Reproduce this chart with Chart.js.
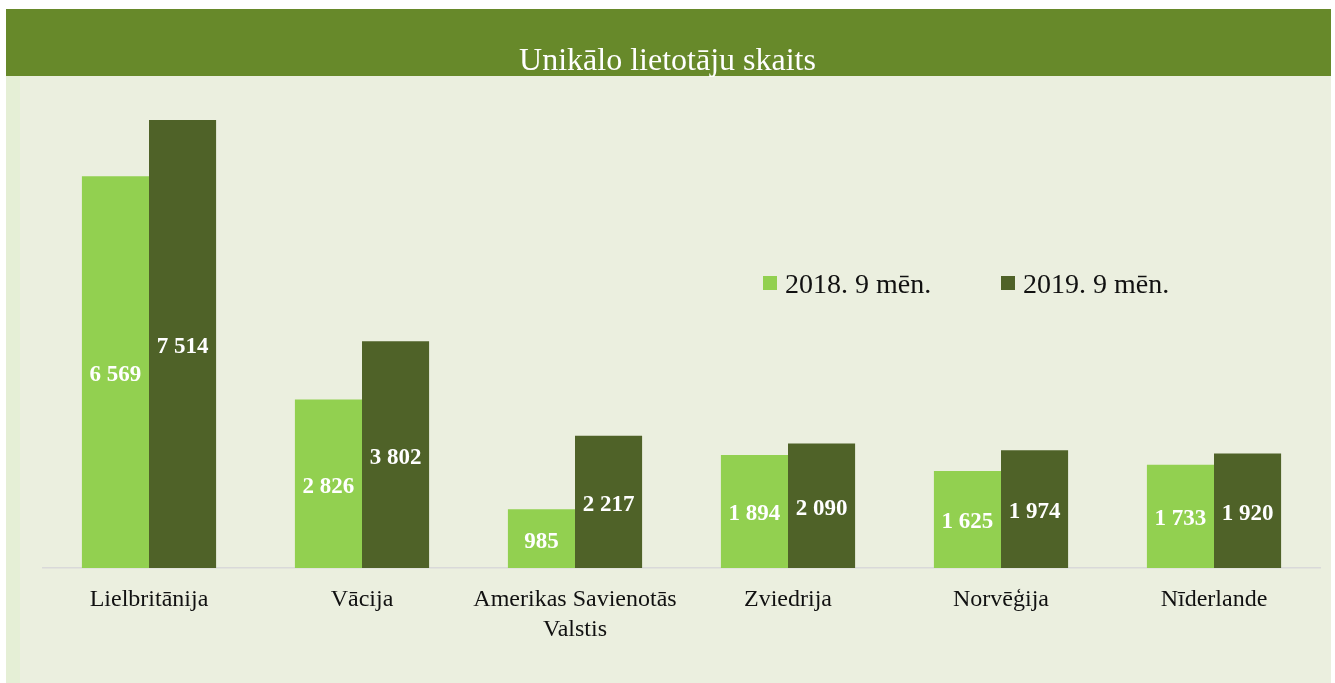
<!DOCTYPE html>
<html>
<head>
<meta charset="utf-8">
<script src="https://cdn.jsdelivr.net/npm/chart.js@4.4.0/dist/chart.umd.min.js"></script>
<style>
  body { margin: 0; background: #fff; }
  #wrap { position: absolute; left: 6px; top: 9px; width: 1325px; height: 674px; }
</style>
</head>
<body>
<div id="wrap"><canvas id="chart" width="1325" height="674"></canvas></div>
<script>
const titleText = 'Unikālo lietotāju skaits';
const categories = ['Lielbritānija', 'Vācija', ['Amerikas Savienotās', 'Valstis'], 'Zviedrija', 'Norvēģija', 'Nīderlande'];
const seriesNames = ['2018. 9 mēn.', '2019. 9 mēn.'];
const values2018 = [6569, 2826, 985, 1894, 1625, 1733];
const values2019 = [7514, 3802, 2217, 2090, 1974, 1920];
const colors = ['#92d050', '#4f6228'];

const SERIF = '"Liberation Serif", "Times New Roman", serif';

function fmt(n) {
  return n.toLocaleString('en-US').replace(/,/g, ' ');
}

// background, header band and title
const backdrop = {
  id: 'backdrop',
  beforeDraw(chart) {
    const { ctx, width, height } = chart;
    ctx.save();
    ctx.fillStyle = '#ebefdf';
    ctx.fillRect(0, 0, width, height);
    ctx.fillStyle = '#e5efd6';
    ctx.fillRect(0, 0, 14, height);
    ctx.fillStyle = '#67892a';
    ctx.fillRect(0, 0, width, 67);
    ctx.fillStyle = '#ffffff';
    ctx.font = '32px ' + SERIF;
    ctx.textAlign = 'center';
    ctx.textBaseline = 'alphabetic';
    ctx.fillText(titleText, width / 2 - 1, 61);
    ctx.restore();
  },
};

// white value labels in the middle of each bar
const barLabels = {
  id: 'barLabels',
  afterDatasetsDraw(chart) {
    const { ctx } = chart;
    ctx.save();
    ctx.fillStyle = '#ffffff';
    ctx.font = 'bold 23px ' + SERIF;
    ctx.textAlign = 'center';
    ctx.textBaseline = 'middle';
    chart.data.datasets.forEach((ds, i) => {
      chart.getDatasetMeta(i).data.forEach((bar, j) => {
        ctx.fillText(fmt(ds.data[j]), bar.x, (bar.y + bar.base) / 2 + 3);
      });
    });
    ctx.restore();
  },
};

// legend placed inside the plot, like the original
const innerLegend = {
  id: 'innerLegend',
  afterDraw(chart) {
    const { ctx } = chart;
    const xs = [757, 995];
    const y = 267;
    ctx.save();
    ctx.font = '28px ' + SERIF;
    ctx.textBaseline = 'middle';
    ctx.textAlign = 'left';
    chart.data.datasets.forEach((ds, i) => {
      ctx.fillStyle = ds.backgroundColor;
      ctx.fillRect(xs[i], y, 14, 14);
      ctx.fillStyle = '#111111';
      ctx.fillText(ds.label, xs[i] + 22, y + 10);
    });
    ctx.restore();
  },
};

new Chart(document.getElementById('chart'), {
  type: 'bar',
  data: {
    labels: categories,
    datasets: [
      { label: seriesNames[0], data: values2018, backgroundColor: colors[0] },
      { label: seriesNames[1], data: values2019, backgroundColor: colors[1] },
    ],
  },
  options: {
    responsive: false,
    animation: false,
    devicePixelRatio: 1,
    layout: { padding: { top: 82, left: 36.5, right: 10.5, bottom: 0 } },
    datasets: { bar: { categoryPercentage: 0.63, barPercentage: 1, borderWidth: 0 } },
    plugins: {
      legend: { display: false },
      title: { display: false },
      tooltip: { enabled: false },
    },
    scales: {
      x: {
        grid: { display: false },
        border: { display: true, color: '#d9d9d9', width: 1.5 },
        ticks: {
          color: '#111111',
          padding: 9,
          maxRotation: 0,
          autoSkip: false,
          font: { family: SERIF, size: 24, lineHeight: 1.25 },
        },
        afterFit(scale) { scale.height = 115; },
      },
      y: {
        display: false,
        min: 0,
        max: 8000,
      },
    },
  },
  plugins: [backdrop, barLabels, innerLegend],
});
</script>
</body>
</html>
